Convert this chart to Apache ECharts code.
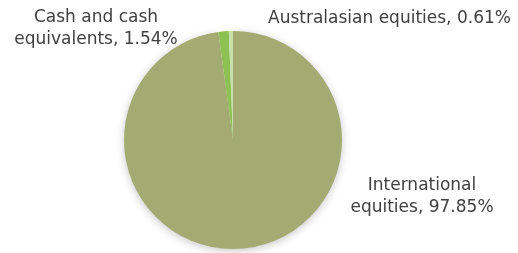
<!DOCTYPE html>
<html><head><meta charset="utf-8">
<script src="https://cdn.jsdelivr.net/npm/echarts@6/dist/echarts.min.js"></script>
<style>html,body{margin:0;padding:0;background:#fff}#c{width:518px;height:253px}</style>
</head><body><div id="c"></div>
<script>
const categories = ["International equities", "Cash and cash equivalents", "Australasian equities"];
const values = [97.85, 1.54, 0.61];
const colors = ["#A3AA72", "#8EC153", "#C8DFA8"];
const labelPos = [
  {x: 422, y: 197, align: "center"},
  {x: 96, y: 29, align: "center"},
  {x: 268, y: 19, align: "left"}
];
const labelTexts = ["International\nequities, 97.85%", "Cash and cash\nequivalents, 1.54%", "Australasian equities, 0.61%"];
const chart = echarts.init(document.getElementById('c'), null, {renderer: 'canvas'});
chart.setOption({
  animation: false,
  series: [{
    type: 'pie',
    center: [233, 140],
    radius: [0, 109],
    startAngle: 90,
    clockwise: true,
    label: {
      show: true,
      color: '#404040',
      fontFamily: 'DejaVu Sans',
      fontSize: 17,
      lineHeight: 22,
      overflow: 'none',
      width: 300,
      formatter: p => labelTexts[p.dataIndex]
    },
    labelLine: {show: false},
    labelLayout: p => ({x: labelPos[p.dataIndex].x, y: labelPos[p.dataIndex].y, align: labelPos[p.dataIndex].align, verticalAlign: 'middle', width: 300}),
    data: categories.map((c, i) => ({name: c, value: values[i], itemStyle: i === 0
      ? {color: colors[i], shadowBlur: 8, shadowColor: 'rgba(0,0,0,0.22)', shadowOffsetY: 2}
      : {color: colors[i]}}))
  }]
});
</script></body></html>
